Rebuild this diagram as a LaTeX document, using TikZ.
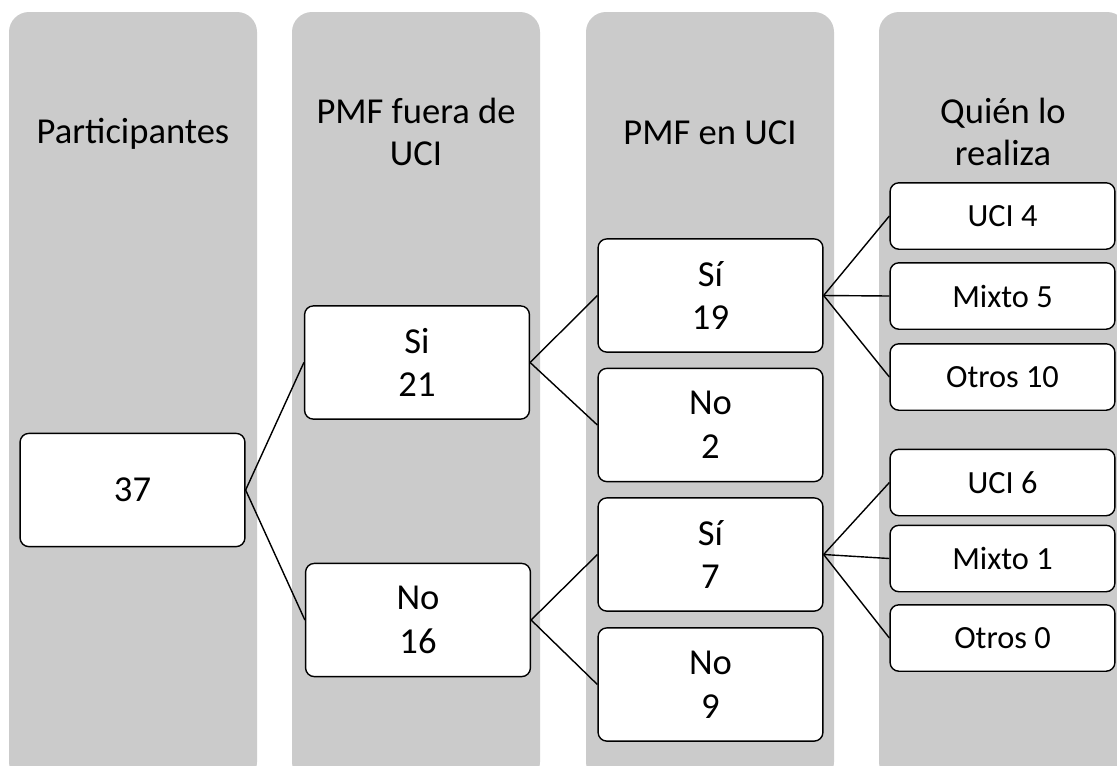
\documentclass[tikz,border=0pt]{standalone}
\usepackage{fontspec}
\setmainfont{Carlito}
\usepackage{xcolor}
\definecolor{lanegray}{HTML}{CBCBCB}

\begin{document}
\begin{tikzpicture}[x=0.025cm,y=-0.025cm,
    lane/.style={fill=lanegray,rounded corners=0.5cm},
    box/.style={draw,fill=white,line width=1pt,rounded corners=0.22cm,align=center,
      minimum width=5.62cm,minimum height=2.83cm,inner sep=0pt,font=\fontsize{26}{31}\selectfont},
    smallbox/.style={box,minimum height=1.66cm,font=\fontsize{23}{26}\selectfont},
    head/.style={align=center,font=\fontsize{26}{30}\selectfont},
    link/.style={line width=1pt}]
  \useasboundingbox (0,0) rectangle (1117,765);
  \foreach \x in {9,292,586,879}
    \fill[lane] (\x,12) rectangle +(248,770);
  \node[head] (hpart) at (133,134) {Participantes};
  \node[head] (hfuera) at (416,132) {PMF fuera de\\UCI};
  \node[head] (hen) at (710,133) {PMF en UCI};
  \node[head] (hquien) at (1003,132) {Quién lo\\realiza};
  % participantes
  \node[box] (n37) at (132.5,490) {37};
  % fuera de UCI
  \node[box] (si21) at (417,362.5) {Si\\21};
  \node[box] (no16) at (418,620) {No\\16};
  % en UCI
  \node[box] (si19) at (710.5,295.5) {Sí\\19};
  \node[box] (no2) at (710.5,425) {No\\2};
  \node[box] (si7) at (710.5,554.5) {Sí\\7};
  \node[box] (no9) at (710.5,684.5) {No\\9};
  % quien lo realiza
  \node[smallbox] (uci4) at (1002.5,216) {UCI 4};
  \node[smallbox] (mix5) at (1002.5,296) {Mixto 5};
  \node[smallbox] (otr10) at (1002.5,377) {Otros 10};
  \node[smallbox] (uci6) at (1002.5,482.5) {UCI 6};
  \node[smallbox] (mix1) at (1002.5,558.5) {Mixto 1};
  \node[smallbox] (otr0) at (1002.5,638) {Otros 0};
  \foreach \a/\b in {n37/si21,n37/no16,si21/si19,si21/no2,no16/si7,no16/no9,
      si19/uci4,si19/mix5,si19/otr10,si7/uci6,si7/mix1,si7/otr0}
    \draw[link] (\a.east) -- (\b.west);
\end{tikzpicture}
\end{document}
